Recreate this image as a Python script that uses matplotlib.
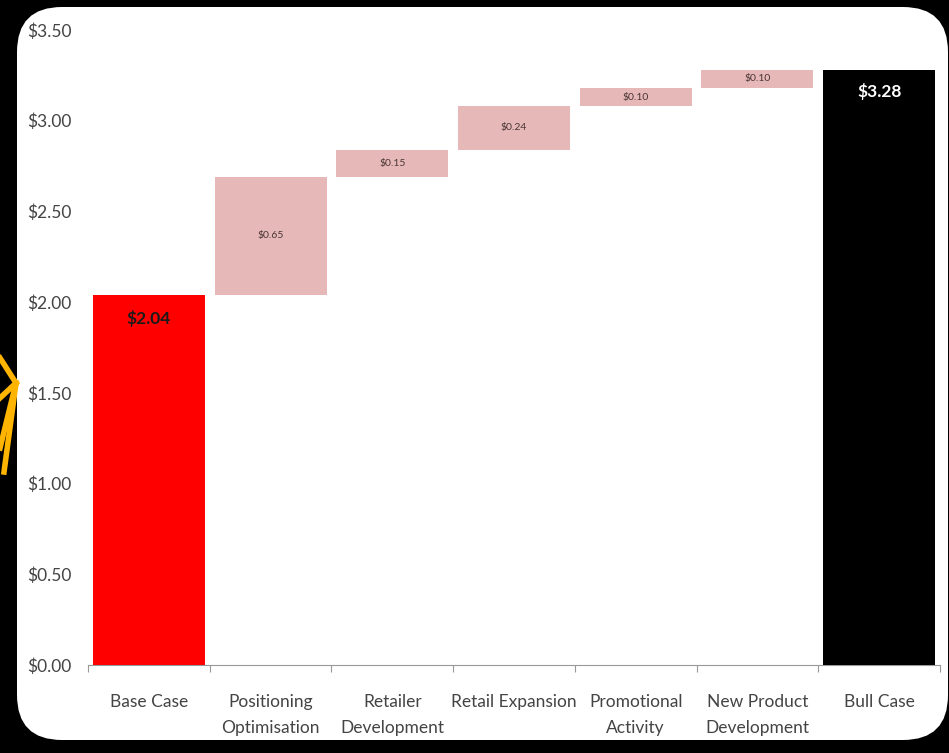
import numpy as np
import matplotlib.pyplot as plt
from matplotlib.patches import FancyBboxPatch
from matplotlib.lines import Line2D

categories = ['Base Case', 'Positioning\nOptimisation', 'Retailer\nDevelopment', 'Retail Expansion',
              'Promotional\nActivity', 'New Product\nDevelopment', 'Bull Case']
base_value = 2.04
steps = [0.65, 0.15, 0.24, 0.10, 0.10]
bull_value = 3.28
yticks = [0.0, 0.5, 1.0, 1.5, 2.0, 2.5, 3.0, 3.5]

plt.rcParams['font.family'] = ['Lato', 'DejaVu Sans']

fig = plt.figure(figsize=(9.49, 7.53), dpi=100, facecolor='black')

# white rounded panel behind the chart (pixel units)
panel = FancyBboxPatch((17, 13), 931, 733, boxstyle='round,pad=0,rounding_size=45',
                       transform=None, facecolor='white', edgecolor='none', zorder=0)
fig.patches.append(panel)

# yellow decoration poking in on the left
for (x1, y1) in [(0, 358), (0, 398), (0, 448), (4, 472)]:
    fig.add_artist(Line2D([16, x1], [753 - 383, 753 - y1], transform=None,
                          color='#FFB400', lw=4, zorder=1))

ax = fig.add_axes([88 / 949, 1 - 665 / 753, 852 / 949, 635 / 753])
ax.set_facecolor('none')
ax.set_zorder(2)

x = np.arange(len(categories))
w = 0.92

ax.bar(x[0], base_value, width=w, color='#FF0000', zorder=3)
ax.text(x[0], base_value - 0.13, f'${base_value:.2f}', ha='center', va='center',
        fontsize=12.5, fontweight='bold', color='#1a1a1a')

bottom = base_value
for i, s in enumerate(steps):
    ax.bar(x[i + 1], s, bottom=bottom, width=w, color='#E6B8B7', zorder=3)
    ax.text(x[i + 1], bottom + s / 2, f'${s:.2f}', ha='center', va='center',
            fontsize=7.5, color='#4a3535')
    bottom += s

ax.bar(x[-1], bull_value, width=w, color='black', zorder=3)
ax.text(x[-1], bull_value - 0.12, f'${bull_value:.2f}', ha='center', va='center',
        fontsize=12.5, fontweight='bold', color='white')

ax.set_xlim(-0.5, len(categories) - 0.5)
ax.set_ylim(0, 3.5)
ax.set_yticks(yticks)
ax.set_yticklabels([f'${v:.2f}' for v in yticks])
ax.tick_params(axis='y', length=0, pad=12, labelsize=12.5, labelcolor='#444444')

ax.set_xticks(np.arange(-0.5, len(categories), 1.0))
ax.set_xticklabels([])
ax.set_xticks(x, minor=True)
ax.set_xticklabels(categories, minor=True, linespacing=1.75)
ax.tick_params(axis='x', which='major', length=5, color='#999999', direction='out')
ax.tick_params(axis='x', which='minor', length=0, pad=21, labelsize=12.5, labelcolor='#444444')

for sp in ['top', 'right', 'left']:
    ax.spines[sp].set_visible(False)
ax.spines['bottom'].set_color('#999999')

fig.savefig('out.png', dpi=100, facecolor='black')
